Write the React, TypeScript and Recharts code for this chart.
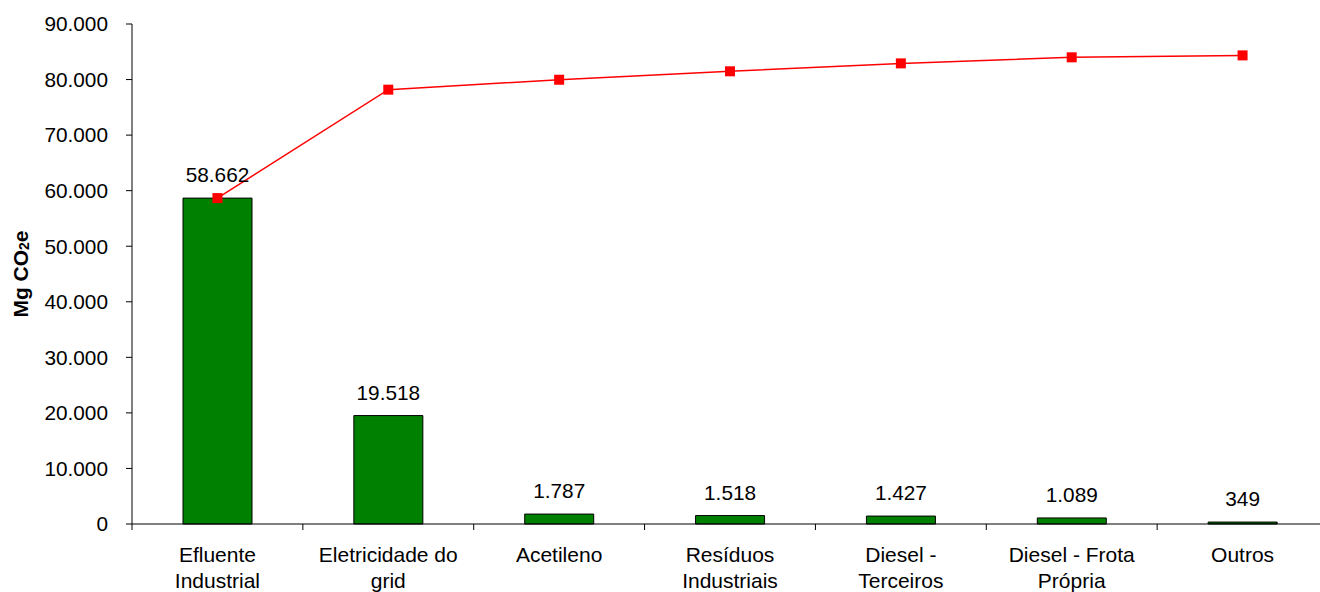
import React from 'react';
import { ComposedChart, Bar, Line, XAxis, YAxis, LabelList } from 'recharts';

// Emission sources (Pareto order) with line breaks for the axis labels
const categories = [
  'Efluente\nIndustrial',
  'Eletricidade do\ngrid',
  'Acetileno',
  'Resíduos\nIndustriais',
  'Diesel -\nTerceiros',
  'Diesel - Frota\nPrópria',
  'Outros',
];

// Emissions per source, Mg CO2e
const emissions = [58662, 19518, 1787, 1518, 1427, 1089, 349];

// Accumulated emissions (Pareto line), Mg CO2e
const accumulated = [58662, 78180, 79967, 81485, 82912, 84001, 84350];

const yTicks = [0, 10000, 20000, 30000, 40000, 50000, 60000, 70000, 80000, 90000];

const data = categories.map((name, i) => ({
  name,
  value: emissions[i],
  total: accumulated[i],
}));

const FONT = '"Liberation Sans", Arial, Helvetica, sans-serif';

// Brazilian thousands separator: 58662 -> "58.662"
const fmt = (v: number) => String(Math.round(v)).replace(/\B(?=(\d{3})+(?!\d))/g, '.');

const CategoryTick = (props: any) => {
  const { x, y, payload } = props;
  const half = payload && typeof payload.offset === 'number' ? payload.offset : 0;
  const lines = String(payload.value).split('\n');
  return (
    <g>
      <line x1={x - half} y1={y - 8} x2={x - half} y2={y - 2} stroke="#000" strokeWidth={1} />
      <text x={x} y={y} textAnchor="middle" fontFamily={FONT} fontSize={21} fill="#000">
        {lines.map((ln, i) => (
          <tspan key={i} x={x} dy={i === 0 ? 30 : 26}>
            {ln}
          </tspan>
        ))}
      </text>
    </g>
  );
};

const YTitle = (props: any) => {
  const vb = props.viewBox || { x: 0, y: 0, width: 0, height: 0 };
  const cx = 20;
  const cy = vb.y + vb.height / 2;
  return (
    <text
      x={cx}
      y={cy}
      transform={`rotate(-90, ${cx}, ${cy})`}
      textAnchor="middle"
      dominantBaseline="central"
      fontFamily={FONT}
      fontSize={21}
      fontWeight="bold"
      fill="#000"
    >
      <tspan>Mg CO</tspan>
      <tspan fontSize={14} dy={4}>2</tspan>
      <tspan dy={-4}>e</tspan>
    </text>
  );
};

const SquareDot = (props: any) => {
  const { cx, cy } = props;
  if (cx == null || cy == null) return null;
  return <rect x={cx - 5} y={cy - 5} width={10} height={10} fill="#ff0000" />;
};

export default function App() {
  return (
    <div
      style={{
        position: 'absolute',
        left: 0,
        top: 0,
        width: 1320,
        height: 592,
        overflow: 'hidden',
        background: '#fff',
      }}
    >
      <ComposedChart
        width={1340}
        height={592}
        data={data}
        margin={{ top: 24, right: 12, bottom: 0, left: 0 }}
        barCategoryGap={0}
      >
        <XAxis
          dataKey="name"
          interval={0}
          height={68}
          axisLine={{ stroke: '#000', strokeWidth: 1 }}
          tickLine={false}
          tick={<CategoryTick />}
        />
        <YAxis
          width={132}
          domain={[0, 90000]}
          ticks={yTicks}
          interval={0}
          tickFormatter={fmt}
          tickSize={6}
          tickMargin={18}
          axisLine={{ stroke: '#000', strokeWidth: 1 }}
          tickLine={{ stroke: '#000', strokeWidth: 1 }}
          tick={{ fontFamily: FONT, fontSize: 20.8, fill: '#000' }}
          label={<YTitle />}
        />
        <Bar
          dataKey="value"
          barSize={69}
          fill="#008000"
          stroke="#000"
          strokeWidth={1}
          isAnimationActive={false}
        >
          <LabelList
            dataKey="value"
            position="top"
            offset={16}
            formatter={(v: any) => fmt(Number(v))}
            style={{ fontFamily: FONT, fontSize: 20.8, fill: '#000' }}
          />
        </Bar>
        <Line
          dataKey="total"
          type="linear"
          stroke="#ff0000"
          strokeWidth={1.5}
          dot={<SquareDot />}
          activeDot={false}
          isAnimationActive={false}
        />
      </ComposedChart>
    </div>
  );
}
